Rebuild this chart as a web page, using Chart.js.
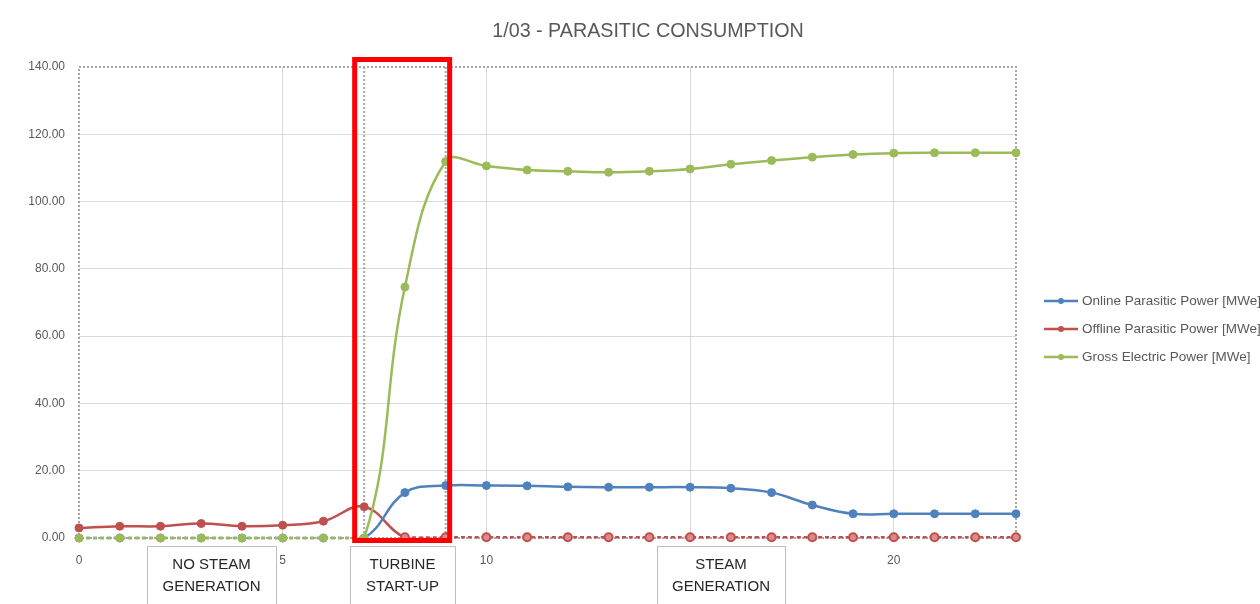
<!DOCTYPE html>
<html>
<head>
<meta charset="utf-8">
<script src="https://cdn.jsdelivr.net/npm/chart.js@4.4.1/dist/chart.umd.min.js"></script>
<style>
  html,body{margin:0;padding:0;background:#fff;}
  #wrap{width:1260px;height:604px;position:relative;}
</style>
</head>
<body>
<div id="wrap"><canvas id="c" width="1260" height="604"></canvas></div>
<script>
// ---- data ----
const hours = [0,1,2,3,4,5,6,7,8,9,10,11,12,13,14,15,16,17,18,19,20,21,22,23];
const onlineParasitic = [0,0,0,0,0,0,0,0,13.5,15.6,15.6,15.5,15.2,15.1,15.1,15.1,14.8,13.5,9.8,7.2,7.2,7.2,7.2,7.2];
const offlineParasitic = [3.0,3.5,3.5,4.3,3.5,3.8,5.0,9.3,0.2,0.2,0.2,0.2,0.2,0.2,0.2,0.2,0.2,0.2,0.2,0.2,0.2,0.2,0.2,0.2];
const grossElectric = [0,0,0,0,0,0,0,0,74.6,111.9,110.6,109.4,109.0,108.7,109.0,109.7,111.1,112.2,113.2,114.0,114.4,114.5,114.5,114.5];
const seriesNames = ['Online Parasitic Power [MWe]','Offline Parasitic Power [MWe]','Gross Electric Power [MWe]'];
const seriesColors = ['#4f81bd','#c0504d','#9bbb59'];
const seriesLight = ['#95b3d7','#d98c8a','#c3d69b'];
const yTicks = [0,20,40,60,80,100,120,140];
const xTicks = [0,5,10,15,20];
const titleText = '1/03 - PARASITIC CONSUMPTION';
const phaseLabels = [['NO STEAM','GENERATION'],['TURBINE','START-UP'],['STEAM','GENERATION']];

const FONT = '"Liberation Sans", Arial, sans-serif';

function toXY(vals){ return hours.map((h,i)=>({x:h,y:vals[i]})); }

function makeDataset(name, vals, idx, order, hollowLow){
  const color = seriesColors[idx];
  return {
    label:name, data:toXY(vals), borderColor:color, backgroundColor:color,
    pointBackgroundColor: c => (hollowLow && c.raw && c.raw.y < 1) ? seriesLight[idx] : color,
    pointBorderColor:color, pointBorderWidth: c => (hollowLow && c.raw && c.raw.y < 1) ? 2 : 1,
    borderWidth:2.5, pointRadius:4, pointHoverRadius:4, tension:0.4, order:order, clip:false,
    segment:{
      borderDash: ctx => (ctx.p0.parsed.y < 1 && ctx.p1.parsed.y < 1) ? [4,3] : undefined
    }
  };
}

const decor = {
  id:'decor',
  beforeDatasetsDraw(chart){
    const {ctx, chartArea:a, scales:{x}} = chart;
    ctx.save();
    ctx.strokeStyle = '#a6a6a6';
    ctx.lineWidth = 2;
    ctx.setLineDash([2,2]);
    ctx.strokeRect(a.left, a.top, a.right-a.left, a.bottom-a.top);
    [7,9].forEach(v=>{
      const px = x.getPixelForValue(v);
      ctx.beginPath(); ctx.moveTo(px, a.top); ctx.lineTo(px, a.bottom); ctx.stroke();
    });
    ctx.restore();
  },
  afterDraw(chart){
    const {ctx, chartArea:a, scales:{x}} = chart;
    ctx.save();
    // title
    ctx.fillStyle = '#595959';
    ctx.font = '19.7px ' + FONT;
    ctx.textAlign = 'center'; ctx.textBaseline = 'middle';
    ctx.fillText(titleText, 648, 32);
    // phase boxes
    const boxes = [[147,276],[350,455],[657,785]];
    boxes.forEach((b,i)=>{
      ctx.fillStyle = '#fff';
      ctx.fillRect(b[0], 546, b[1]-b[0], 70);
      ctx.strokeStyle = '#bfbfbf'; ctx.lineWidth = 1; ctx.setLineDash([]);
      ctx.strokeRect(b[0]+0.5, 546.5, b[1]-b[0], 70);
      ctx.fillStyle = '#262626';
      ctx.font = '15px ' + FONT;
      ctx.textAlign='center'; ctx.textBaseline='middle';
      const cx = (b[0]+b[1])/2;
      ctx.fillText(phaseLabels[i][0], cx, 565);
      ctx.fillText(phaseLabels[i][1], cx, 587);
    });
    // red highlight box
    const l = x.getPixelForValue(7) - 9.5, r = x.getPixelForValue(9) + 4;
    ctx.strokeStyle = '#ff0000'; ctx.lineWidth = 5; ctx.setLineDash([]);
    ctx.strokeRect(l, a.top - 7.5, r - l, a.bottom - a.top + 10);
    // legend
    ctx.font = '13.5px ' + FONT;
    ctx.textAlign='left'; ctx.textBaseline='middle';
    seriesNames.forEach((n,i)=>{
      const y = 301 + i*28;
      ctx.strokeStyle = seriesColors[i]; ctx.lineWidth = 2.5;
      ctx.beginPath(); ctx.moveTo(1044,y); ctx.lineTo(1078,y); ctx.stroke();
      ctx.fillStyle = seriesColors[i];
      ctx.beginPath(); ctx.arc(1061,y,3,0,Math.PI*2); ctx.fill();
      ctx.fillStyle = '#595959';
      ctx.fillText(n, 1082, y);
    });
    ctx.restore();
  }
};

new Chart(document.getElementById('c'), {
  type:'line',
  data:{ datasets:[
    makeDataset(seriesNames[0], onlineParasitic, 0, 1, false),
    makeDataset(seriesNames[1], offlineParasitic, 1, 2, true),
    makeDataset(seriesNames[2], grossElectric, 2, 0, false)
  ]},
  options:{
    responsive:false, devicePixelRatio:1, animation:false,
    layout:{ padding:{ left:0, top:67, right:244, bottom:0 } },
    plugins:{ legend:{display:false}, title:{display:false}, tooltip:{enabled:false} },
    scales:{
      x:{
        type:'linear', min:0, max:23,
        afterBuildTicks: s => { s.ticks = xTicks.map(v=>({value:v})); },
        afterFit: s => { s.height = 66; },
        border:{display:false},
        grid:{ drawTicks:false, color: c => (c.tick && c.tick.value===0) ? 'rgba(0,0,0,0)' : '#d9d9d9', lineWidth:1 },
        ticks:{ color:'#595959', font:{family:FONT, size:12}, padding:15, maxRotation:0 }
      },
      y:{
        type:'linear', min:0, max:140,
        afterBuildTicks: s => { s.ticks = yTicks.map(v=>({value:v})); },
        afterFit: s => { s.width = 79; },
        border:{display:false},
        grid:{ drawTicks:false, color: c => (c.tick && (c.tick.value===0 || c.tick.value===140)) ? 'rgba(0,0,0,0)' : '#d9d9d9', lineWidth:1 },
        ticks:{ color:'#595959', font:{family:FONT, size:12}, padding:14, callback: v => Number(v).toFixed(2) }
      }
    }
  },
  plugins:[decor]
});
</script>
</body>
</html>
